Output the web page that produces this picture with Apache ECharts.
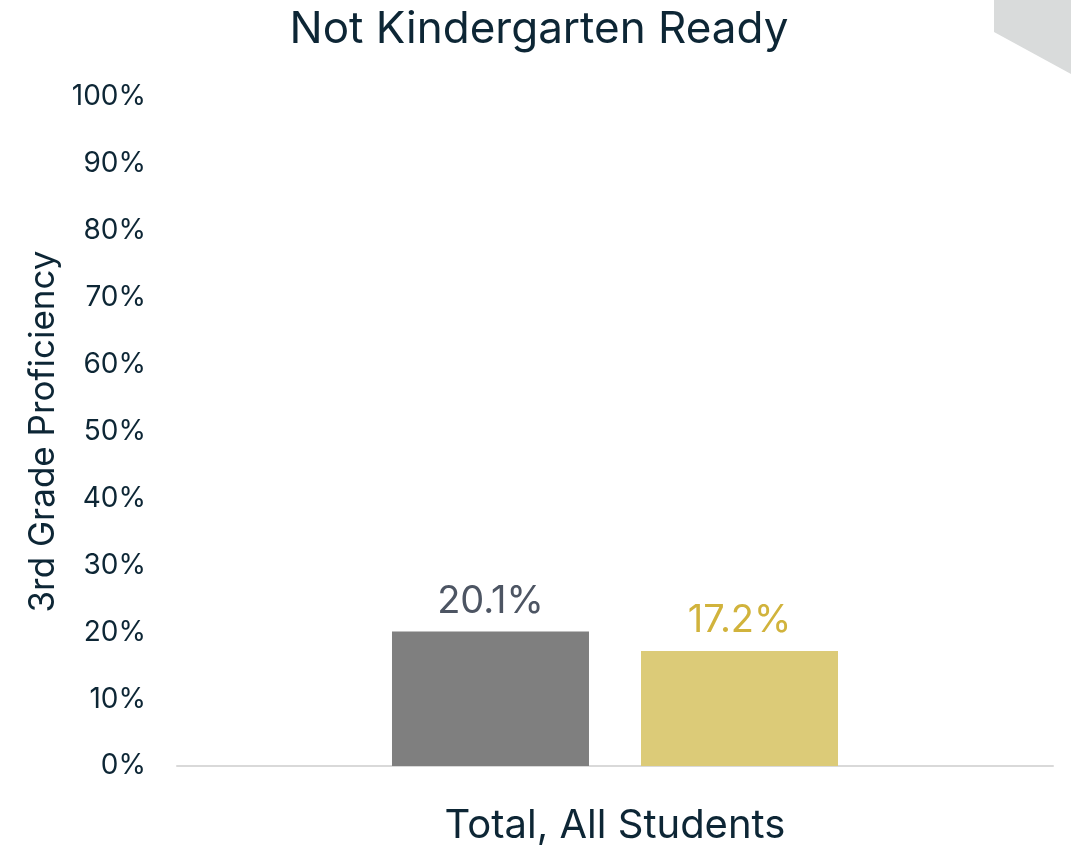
<!DOCTYPE html>
<html>
<head>
<meta charset="utf-8">
<script src="https://cdn.jsdelivr.net/npm/echarts@6/dist/echarts.min.js"></script>
<style>
  html, body { margin: 0; padding: 0; background: #fff; }
  #main { width: 1071px; height: 848px; }
</style>
</head>
<body>
<div id="main"></div>
<script>
var categories = ["Total, All Students"];
var seriesNames = ["Not Kindergarten Ready", "All Students"];
var grayValues = [20.1];
var goldValues = [17.2];
var yTicks = [0, 10, 20, 30, 40, 50, 60, 70, 80, 90, 100];

var chart = echarts.init(document.getElementById("main"));
var font = "Inter, Roboto, 'Noto Sans', sans-serif";

chart.setOption({
  animation: false,
  title: {
    text: "Not Kindergarten Ready",
    left: 534,
    textAlign: "center",
    top: 3,
    textStyle: { fontFamily: font, fontSize: 44, fontWeight: "normal", color: "#0d2635" }
  },
  graphic: [
    {
      type: "polygon",
      shape: { points: [[994, 0], [1071, 0], [1071, 74], [994, 32]] },
      style: { fill: "#d9dbdb" },
      silent: true
    }
  ],
  grid: { left: 177, right: 18, top: 97, bottom: 82 },
  xAxis: {
    type: "category",
    data: categories,
    axisLine: { lineStyle: { color: "#d9d9d9", width: 2 } },
    axisTick: { show: false },
    axisLabel: { fontFamily: font, fontSize: 40, color: "#0d2635", margin: 40 }
  },
  yAxis: {
    type: "value",
    min: yTicks[0],
    max: yTicks[yTicks.length - 1],
    interval: 10,
    name: "3rd Grade Proficiency",
    nameLocation: "middle",
    nameGap: 116,
    nameTextStyle: { fontFamily: font, fontSize: 35, color: "#0d2635" },
    splitLine: { show: false },
    axisLine: { show: false },
    axisTick: { show: false },
    axisLabel: {
      fontFamily: font, fontSize: 28, color: "#0d2635", margin: 31,
      formatter: function (v) { return v + "%"; }
    }
  },
  series: [
    {
      name: seriesNames[0],
      type: "bar",
      data: grayValues,
      barWidth: 197,
      barGap: "26.4%",
      itemStyle: { color: "#7f7f7f" },
      label: {
        show: true, position: "top", distance: 11,
        fontFamily: font, fontSize: 38, color: "#4d5563",
        formatter: function (p) { return p.value.toFixed(1) + "%"; }
      }
    },
    {
      name: seriesNames[1],
      type: "bar",
      data: goldValues,
      barWidth: 197,
      itemStyle: { color: "#dccb78" },
      label: {
        show: true, position: "top", distance: 11,
        fontFamily: font, fontSize: 38, color: "#d1b33c",
        formatter: function (p) { return p.value.toFixed(1) + "%"; }
      }
    }
  ]
});
</script>
</body>
</html>
